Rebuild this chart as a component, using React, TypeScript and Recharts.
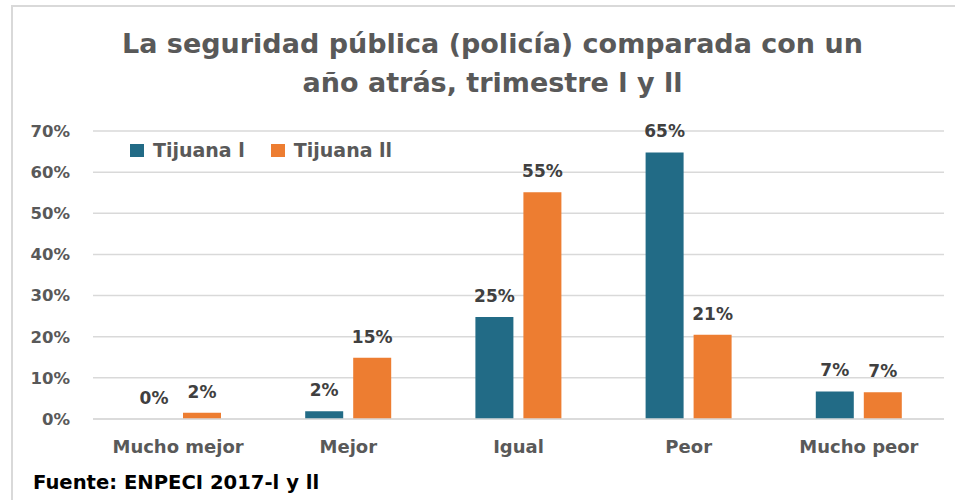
import React from "react";
import { BarChart, Bar, XAxis, YAxis, CartesianGrid, LabelList } from "recharts";

const categories = ["Mucho mejor", "Mejor", "Igual", "Peor", "Mucho peor"];
const tijuanaI = [0, 1.9, 24.8, 64.8, 6.7];
const tijuanaII = [1.5, 14.9, 55.1, 20.5, 6.5];
const yTicks = [0, 10, 20, 30, 40, 50, 60, 70];
const seriesNames = ["Tijuana l", "Tijuana ll"];
const titleLines = ["La seguridad pública (policía) comparada con un", "año atrás, trimestre l y ll"];
const sourceText = "Fuente: ENPECI 2017-l y ll";

const BLUE = "#226b86";
const ORANGE = "#ed7d31";
const FONT = "'DejaVu Sans', Verdana, sans-serif";

const data = categories.map((c, i) => ({ name: c, a: tijuanaI[i], b: tijuanaII[i] }));

const fmt = (v: number) => `${Math.round(v)}%`;
const tinyMin = (v: number) => (v === 0 ? 0.01 : 0);

export default function App() {
  return (
    <div style={{ position: "absolute", left: 0, top: 0, width: 955, height: 500, background: "#fff", overflow: "hidden" }}>
      <div style={{ position: "absolute", left: 11, top: 5, width: 960, height: 510, borderLeft: "2px solid #d9d9d9", borderTop: "2px solid #d9d9d9" }} />
      <BarChart
        width={955}
        height={500}
        data={data}
        margin={{ top: 131, right: 11, bottom: 51, left: 33 }}
        barSize={38}
        barGap={10}
      >
        <CartesianGrid vertical={false} stroke="#d9d9d9" strokeWidth={1.5} />
        <XAxis
          dataKey="name"
          height={30}
          axisLine={{ stroke: "#d9d9d9", strokeWidth: 1.5 }}
          tickLine={false}
          tickMargin={15}
          tick={{ fill: "#595959", fontFamily: FONT, fontWeight: 700, fontSize: 18 }}
        />
        <YAxis
          width={60}
          domain={[0, 70]}
          ticks={yTicks}
          interval={0}
          axisLine={false}
          tickLine={false}
          tickSize={0}
          tickMargin={23}
          tickFormatter={(v: number) => `${v}%`}
          tick={{ fill: "#595959", fontFamily: FONT, fontWeight: 700, fontSize: 16.5 }}
        />
        <Bar dataKey="a" name={seriesNames[0]} fill={BLUE} minPointSize={tinyMin} isAnimationActive={false}>
          <LabelList dataKey="a" position="top" offset={15} formatter={fmt} fill="#404040" fontFamily={FONT} fontWeight={700} fontSize={17} />
        </Bar>
        <Bar dataKey="b" name={seriesNames[1]} fill={ORANGE} isAnimationActive={false}>
          <LabelList dataKey="b" position="top" offset={15} formatter={fmt} fill="#404040" fontFamily={FONT} fontWeight={700} fontSize={17} />
        </Bar>
      </BarChart>
      <div style={{ position: "absolute", left: 130, top: 139, display: "flex", alignItems: "center", fontFamily: FONT, fontWeight: 700, fontSize: 19, color: "#595959" }}>
        {seriesNames.map((n, i) => (
          <div key={n} style={{ display: "flex", alignItems: "center", marginRight: 26 }}>
            <div style={{ width: 14, height: 13, background: i === 0 ? BLUE : ORANGE, marginRight: 9 }} />
            <span>{n}</span>
          </div>
        ))}
      </div>
      <div style={{ position: "absolute", left: 0, width: 985, top: 24, textAlign: "center", fontFamily: FONT, fontWeight: 700, fontSize: 27, lineHeight: "39px", color: "#595959" }}>
        {titleLines.map((l) => (
          <div key={l}>{l}</div>
        ))}
      </div>
      <div style={{ position: "absolute", left: 33, top: 471, fontFamily: FONT, fontWeight: 700, fontSize: 19.6, color: "#000" }}>
        {sourceText}
      </div>
    </div>
  );
}
